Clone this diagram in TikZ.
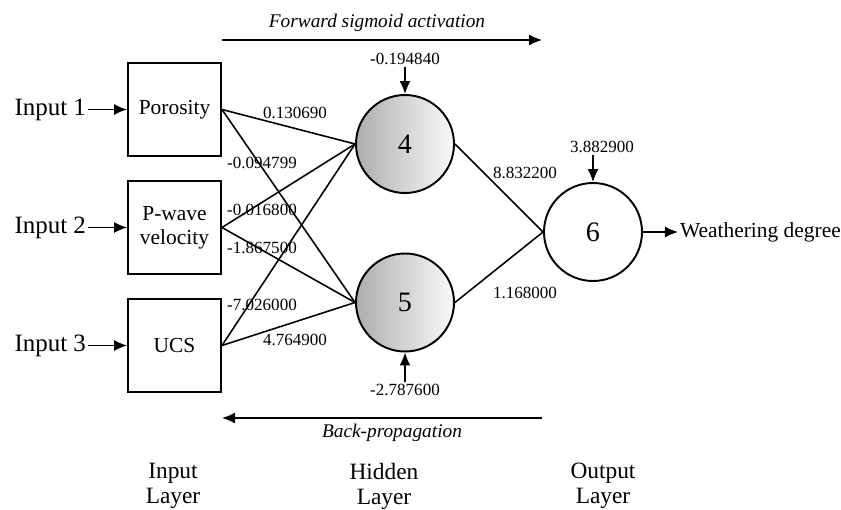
\documentclass[tikz,border=0pt]{standalone}
\usepackage{fontspec}
\setmainfont{Liberation Serif}
\usetikzlibrary{positioning,arrows.meta}

\begin{document}
\begin{tikzpicture}[
    >={Latex[length=2.6mm,width=2.2mm]},
    every node/.style={font=\fontsize{12.2}{13.7}\selectfont},
    unit/.style={draw, line width=1.1pt, minimum size=1.86cm, align=center, inner sep=1pt},
    neuron/.style={circle, draw, line width=1.1pt, minimum size=1.96cm, font=\fontsize{16}{18}\selectfont},
    hidden/.style={neuron, left color=black!32, right color=black!2},
    weight/.style={font=\fontsize{9.7}{11}\selectfont, inner sep=1pt},
    inlabel/.style={font=\fontsize{14.2}{16}\selectfont, inner sep=1pt},
    layer/.style={align=center, font=\fontsize{13.3}{14.2}\selectfont},
    flow/.style={font=\fontsize{11}{13}\selectfont\itshape}
]
\useasboundingbox (0,0) rectangle (16.82,10.18);

% input layer
\node[unit] (poro)  at (3.49,7.99) {Porosity};
\node[unit] (pwave) at (3.49,5.63) {P-wave\\velocity};
\node[unit] (ucs)   at (3.49,3.27) {UCS};
\foreach \i/\n in {1/poro,2/pwave,3/ucs} {
    \node[inlabel, left=0.78cm of \n] (in\i) {Input \i};
    \draw[->, line width=0.7pt] (in\i) -- (\n);
}

% hidden and output neurons
\node[hidden] (h4) at (8.10,7.30) {4};
\node[hidden] (h5) at (8.10,4.13) {5};
\node[neuron] (out) at (11.86,5.54) {6};

% connections
\foreach \a in {poro,pwave,ucs}
    \foreach \b in {h4,h5}
        \draw[line width=0.9pt] (\a.east) -- (\b.west);
\draw[line width=0.9pt] (h4.east) -- (out.west);
\draw[line width=0.9pt] (h5.east) -- (out.west);

% weights
\foreach \w/\x/\y [count=\k] in {0.130690/5.90/7.92, -0.094799/5.24/6.92, -0.016800/5.24/5.98,
        -1.867500/5.24/5.22, -7.026000/5.24/4.08, 4.764900/5.90/3.38,
        8.832200/10.50/6.72, 1.168000/10.50/4.32}
    \node[weight] (w\k) at (\x,\y) {\w};

% biases
\node[weight, above=0.55cm of h4] (b4) {-0.194840};
\draw[->, line width=0.8pt] (b4) -- (h4);
\node[weight, below=0.6cm of h5] (b5) {-2.787600};
\draw[->, line width=0.8pt] (b5) -- (h5);
\node[weight, above=0.55cm of out, xshift=0.18cm] (b6) {3.882900};
\draw[->, line width=0.8pt] (b6.south -| out.north) -- (out.north);

% output
\node[right=0.7cm of out, inner sep=1pt] (res) {Weathering degree};
\draw[->, line width=0.8pt] (out) -- (res);

% forward and backward passes
\coordinate (fa) at (4.44,9.38);
\coordinate (fb) at (10.84,9.38);
\draw[->, line width=0.8pt] (fa) -- (fb);
\node[flow] (fwd) at (7.54,9.72) {Forward sigmoid activation};
\coordinate (ba) at (10.84,1.82);
\coordinate (bb) at (4.44,1.82);
\draw[->, line width=0.8pt] (ba) -- (bb);
\node[flow] (bwd) at (7.84,1.52) {Back-propagation};

% layer names
\node[layer] (lin)  at (3.46,0.46)  {Input\\Layer};
\node[layer] (lhid) at (7.68,0.46)  {Hidden\\Layer};
\node[layer] (lout) at (12.06,0.46) {Output\\Layer};
\end{tikzpicture}
\end{document}
